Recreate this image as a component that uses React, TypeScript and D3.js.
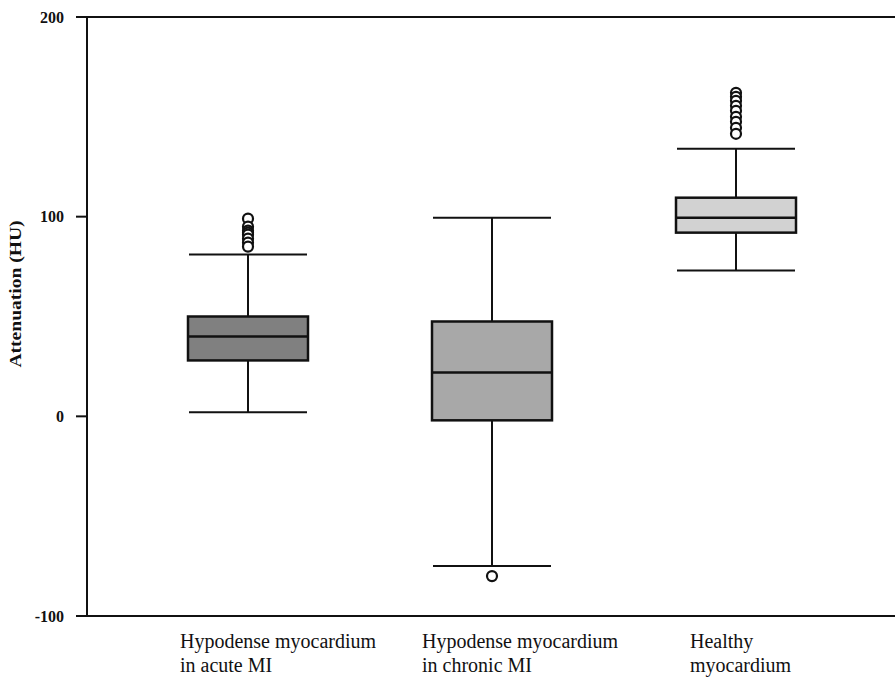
import React from "react";
import * as d3 from "d3";

const categories = [
  ["Hypodense myocardium", "in acute MI"],
  ["Hypodense myocardium", "in chronic MI"],
  ["Healthy", "myocardium"],
];
const q1 = [28, -2, 92];
const medians = [40, 22, 99.5];
const q3 = [50, 47.5, 109.5];
const whiskerLow = [2, -75, 73];
const whiskerHigh = [81, 99.5, 134];
const outliers = [
  [99, 95, 93, 92, 91, 89, 87, 85],
  [-80],
  [162, 160, 158, 155.5, 153, 150, 147.5, 144.5, 141.5],
];
const fills = ["#808080", "#a8a8a8", "#d2d2d2"];
const yTicks = [-100, 0, 100, 200];
const yLabel = "Attenuation (HU)";

export default function App() {
  const W = 895;
  const H = 678;
  const left = 87;
  const top = 17;
  const bottom = 616;
  const y = d3.scaleLinear().domain([-100, 200]).range([bottom, top]);
  const idx = categories.map((_, i) => i);
  const x = d3.scalePoint<number>().domain(idx).range([248, 736]);
  const boxW = 120;
  const capW = 118;
  const labelOffsets = [-68, -70, -46];
  const font = "'Liberation Serif', 'Times New Roman', serif";

  return (
    <svg
      width={W}
      height={H}
      style={{ position: "absolute", left: 0, top: 0, background: "#fff" }}
      fontFamily={font}
    >
      <line x1={left} x2={W} y1={top} y2={top} stroke="#111" strokeWidth={2} />
      <line x1={left} x2={W} y1={bottom} y2={bottom} stroke="#111" strokeWidth={2} />
      <line x1={left} x2={left} y1={top} y2={bottom} stroke="#111" strokeWidth={2} />
      {yTicks.map((t) => (
        <g key={t}>
          <line x1={76} x2={left} y1={y(t)} y2={y(t)} stroke="#111" strokeWidth={2} />
          <text
            x={64}
            y={y(t)}
            dy="0.35em"
            textAnchor="end"
            fontSize={16}
            fontWeight="bold"
            fill="#111"
          >
            {t}
          </text>
        </g>
      ))}
      <text
        transform={`translate(21, 294) rotate(-90) scale(1.15, 1)`}
        textAnchor="middle"
        fontSize={17}
        fontWeight="bold"
        fill="#111"
      >
        {yLabel}
      </text>
      {idx.map((i) => {
        const cx = x(i) as number;
        return (
          <g key={i}>
            <line x1={cx} x2={cx} y1={y(whiskerLow[i])} y2={y(q1[i])} stroke="#111" strokeWidth={2} />
            <line x1={cx} x2={cx} y1={y(q3[i])} y2={y(whiskerHigh[i])} stroke="#111" strokeWidth={2} />
            <line x1={cx - capW / 2} x2={cx + capW / 2} y1={y(whiskerLow[i])} y2={y(whiskerLow[i])} stroke="#111" strokeWidth={2} />
            <line x1={cx - capW / 2} x2={cx + capW / 2} y1={y(whiskerHigh[i])} y2={y(whiskerHigh[i])} stroke="#111" strokeWidth={2} />
            <rect
              x={cx - boxW / 2}
              y={y(q3[i])}
              width={boxW}
              height={y(q1[i]) - y(q3[i])}
              fill={fills[i]}
              stroke="#111"
              strokeWidth={2.5}
            />
            <line x1={cx - boxW / 2} x2={cx + boxW / 2} y1={y(medians[i])} y2={y(medians[i])} stroke="#111" strokeWidth={2.5} />
            {outliers[i].map((o, j) => (
              <circle key={j} cx={cx} cy={y(o)} r={5} fill="#fff" stroke="#111" strokeWidth={2.2} />
            ))}
            {categories[i].map((line, k) => (
              <text
                key={k}
                x={cx + labelOffsets[i]}
                y={648 + k * 24}
                fontSize={20}
                fill="#111"
              >
                {line}
              </text>
            ))}
          </g>
        );
      })}
    </svg>
  );
}
